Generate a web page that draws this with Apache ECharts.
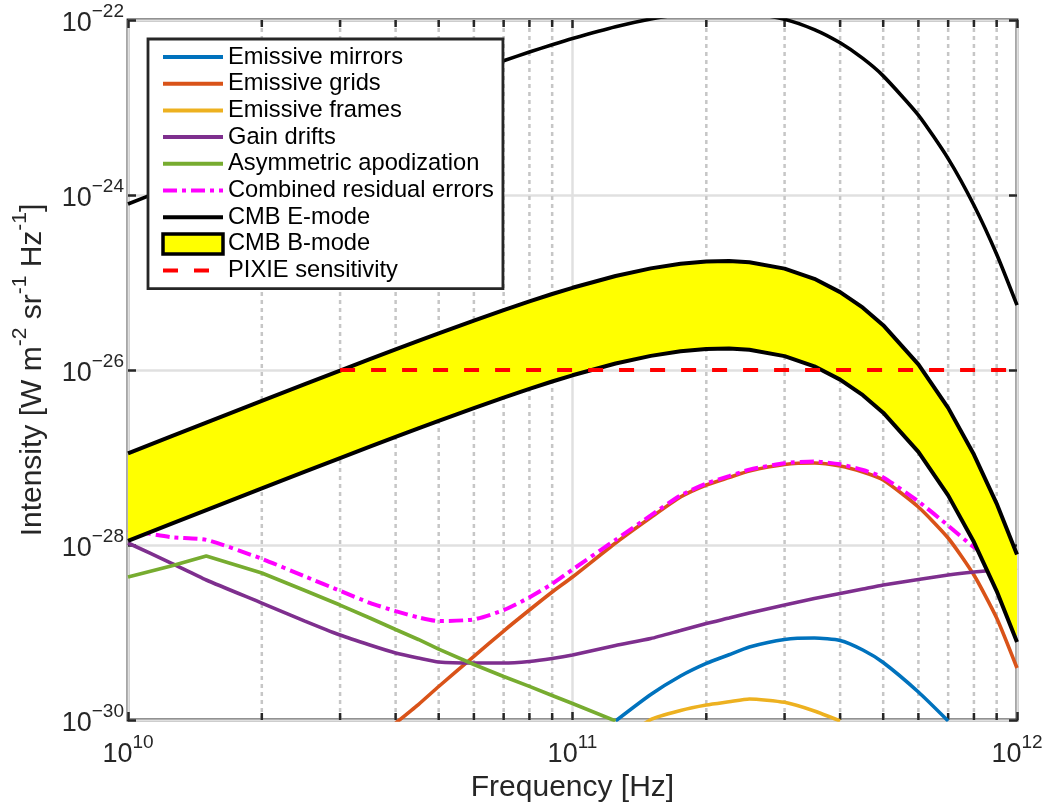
<!DOCTYPE html>
<html>
<head>
<meta charset="utf-8">
<script src="https://cdn.jsdelivr.net/npm/echarts@6/dist/echarts.min.js"></script>
<style>
  html, body { margin: 0; padding: 0; background: #fff; }
  #chart { width: 1052px; height: 808px; }
</style>
</head>
<body>
<div id="chart"></div>
<script>
// Frequency samples [Hz]
const freqHz = [1.0e10, 1.25e10, 1.5e10, 2.0e10, 2.5e10, 3.0e10, 3.5e10, 4.0e10, 4.5e10, 5.0e10,
                6.0e10, 7.0e10, 8.0e10, 9.0e10, 1.0e11, 1.25e11, 1.5e11, 1.75e11, 2.0e11, 2.25e11,
                2.5e11, 3.0e11, 3.5e11, 4.0e11, 4.5e11, 5.0e11, 6.0e11, 7.0e11, 8.0e11, 9.0e11, 1.0e12];

// Intensities [W m^-2 sr^-1 Hz^-1]; null = not drawn
const emissiveMirrors = [null, null, null, null, null, null, null, null, null, null,
  null, null, null, null, null, 9.75e-31, 1.955e-30, 3.18e-30, 4.43e-30, 5.57e-30,
  6.83e-30, 8.32e-30, 8.65e-30, 8.11e-30, 6.31e-30, 4.54e-30, 2.09e-30, 9.75e-31, null, null, null];

const emissiveGrids = [null, null, null, null, null, null, null, 9.24e-31, 1.503e-30, 2.415e-30,
  5.32e-30, 1.040e-29, 1.807e-29, 2.904e-29, 4.31e-29, 1.054e-28, 2.061e-28, 3.54e-28, 4.85e-28, 5.90e-28,
  7.01e-28, 8.32e-28, 8.65e-28, 8.00e-28, 6.82e-28, 5.53e-28, 2.72e-28, 1.202e-28, 4.54e-29, 1.465e-29, 3.93e-30];

const emissiveFrames = [null, null, null, null, null, null, null, null, null, null,
  null, null, null, null, null, 5.18e-31, 1.013e-30, 1.285e-30, 1.483e-30, 1.614e-30,
  1.738e-30, 1.592e-30, 1.268e-30, 9.75e-31, null, null, null, null, null, null, null];

const gainDrifts = [1.054e-28, 6.22e-29, 3.98e-29, 2.17e-29, 1.35e-29, 9.35e-30, 7.19e-30, 5.83e-30, 5.11e-30, 4.60e-30,
  4.48e-30, 4.48e-30, 4.67e-30, 5.04e-30, 5.53e-30, 7.10e-30, 8.53e-30, 1.054e-29, 1.268e-29, 1.465e-29,
  1.671e-29, 2.061e-29, 2.45e-29, 2.79e-29, 3.14e-29, 3.49e-29, 4.04e-29, 4.54e-29, 4.91e-29, 5.18e-29, 5.46e-29];

const asymApodization = [4.31e-29, 5.75e-29, 7.48e-29, 4.79e-29, 3.02e-29, 2.06e-29, 1.465e-29, 1.082e-29, 8.32e-30, 6.47e-30,
  4.31e-30, 3.14e-30, 2.42e-30, 1.905e-30, 1.545e-30, 9.75e-31, null, null, null, null,
  null, null, null, null, null, null, null, null, null, null, null];

const combinedResidual = [1.485e-28, 1.23e-28, 1.146e-28, 6.96e-29, 4.37e-29, 2.995e-29, 2.18e-29, 1.757e-29, 1.49e-29, 1.35e-29,
  1.411e-29, 1.80e-29, 2.52e-29, 3.60e-29, 5.24e-29, 1.145e-28, 2.176e-28, 3.69e-28, 5.04e-28, 6.12e-28,
  7.26e-28, 8.62e-28, 8.99e-28, 8.37e-28, 7.19e-28, 5.92e-28, 3.145e-28, 1.666e-28, 9.45e-29, 6.65e-29, 5.85e-29];

const cmbEmode = [7.889e-25, 1.230e-24, 1.768e-24, 3.130e-24, 4.862e-24, 6.953e-24, 9.385e-24, 1.214e-23, 1.520e-23, 1.854e-23,
  2.596e-23, 3.419e-23, 4.300e-23, 5.218e-23, 6.145e-23, 8.375e-23, 1.025e-22, 1.159e-22, 1.230e-22, 1.242e-22,
  1.202e-22, 1.018e-22, 7.776e-23, 5.485e-23, 3.637e-23, 2.298e-23, 8.185e-24, 2.605e-24, 7.638e-25, 2.102e-25, 5.507e-26];

const cmbBmodeUpper = [1.117e-27, 1.742e-27, 2.503e-27, 4.433e-27, 6.883e-27, 9.842e-27, 1.328e-26, 1.719e-26, 2.152e-26, 2.625e-26,
  3.675e-26, 4.840e-26, 6.086e-26, 7.386e-26, 8.700e-26, 1.186e-25, 1.451e-25, 1.641e-25, 1.742e-25, 1.758e-25,
  1.701e-25, 1.441e-25, 1.101e-25, 7.765e-26, 5.149e-26, 3.253e-26, 1.159e-26, 3.688e-27, 1.081e-27, 2.977e-28, 7.797e-29];

const cmbBmodeLower = [1.117e-28, 1.742e-28, 2.503e-28, 4.433e-28, 6.883e-28, 9.842e-28, 1.328e-27, 1.719e-27, 2.152e-27, 2.625e-27,
  3.675e-27, 4.840e-27, 6.086e-27, 7.386e-27, 8.700e-27, 1.186e-26, 1.451e-26, 1.641e-26, 1.742e-26, 1.758e-26,
  1.701e-26, 1.441e-26, 1.101e-26, 7.765e-27, 5.149e-27, 3.253e-27, 1.159e-27, 3.688e-28, 1.081e-28, 2.977e-29, 7.797e-30];

const pixieFreqHz = [3.0e10, 1.0e12];
const pixieSensitivity = [1.0e-26, 1.0e-26];

// Axis ranges and minor tick positions
const xRange = [1e10, 1e12];
const yRange = [1e-30, 1e-22];
const minorFreqHz = [2e10, 3e10, 4e10, 5e10, 6e10, 7e10, 8e10, 9e10,
                     2e11, 3e11, 4e11, 5e11, 6e11, 7e11, 8e11, 9e11];

// The y axis works in units of 1e-30 W m^-2 sr^-1 Hz^-1 so the log scale
// keeps its extent away from floating-point rounding to zero.
const Y_UNIT = 1e-30;
const Y_UNIT_EXP = -30;
const toUnit = v => (v == null ? null : v / Y_UNIT);

const FONT = '"Liberation Sans", Arial, Helvetica, sans-serif';
const AXIS_COLOR = '#262626';

function pairs(xs, ys) {
  return xs.map((x, i) => [x, toUnit(ys[i])]);
}

function exponentText(e) {
  return e < 0 ? '\u2212' + (-e) : String(e);
}
function xPowerLabel(value) {
  return '{b|10}{s|' + exponentText(Math.round(Math.log10(value))) + '}';
}
function yPowerLabel(value) {
  return '{b|10}{s|' + exponentText(Math.round(Math.log10(value)) + Y_UNIT_EXP) + '}';
}

const tickRich = {
  b: { fontSize: 27, lineHeight: 35, verticalAlign: 'bottom', color: AXIS_COLOR, fontFamily: FONT },
  s: { fontSize: 19, lineHeight: 19, verticalAlign: 'top', color: AXIS_COLOR, fontFamily: FONT }
};

const tickStyle = { inside: true, length: 8, lineStyle: { color: AXIS_COLOR, width: 2.5 } };

function lineSeries(name, ys, color, extra) {
  return Object.assign({
    name: name,
    type: 'line',
    data: pairs(freqHz, ys),
    showSymbol: false,
    symbol: 'none',
    smooth: 0.2,
    connectNulls: false,
    z: 2,
    silent: true,
    color: color,
    itemStyle: { color: color },
    lineStyle: { color: color, width: 3.6 }
  }, extra || {});
}

const chart = echarts.init(document.getElementById('chart'), null, { renderer: 'canvas' });

const option = {
  animation: false,
  backgroundColor: '#ffffff',
  textStyle: { fontFamily: FONT },
  grid: {
    left: 128, right: 35, top: 20, bottom: 88,
    outerBoundsMode: 'none',
    show: true, borderColor: AXIS_COLOR, borderWidth: 2.8, backgroundColor: 'rgba(0,0,0,0)'
  },
  legend: {
    orient: 'vertical',
    left: 148, top: 39,
    padding: [6, 9, 6, 13],
    backgroundColor: '#ffffff',
    borderColor: AXIS_COLOR,
    borderWidth: 2.8,
    borderRadius: 0,
    itemWidth: 60,
    itemHeight: 20,
    itemGap: 2.7,
    selectedMode: false,
    // line entries show only their stroke
    itemStyle: { opacity: 0 },
    lineStyle: { width: 4 },
    textStyle: { fontSize: 23.7, lineHeight: 24, color: '#000', fontFamily: FONT },
    data: [
      'Emissive mirrors', 'Emissive grids', 'Emissive frames', 'Gain drifts',
      'Asymmetric apodization', 'Combined residual errors', 'CMB E-mode',
      { name: 'CMB B-mode', icon: 'rect',
        itemStyle: { opacity: 1, color: '#ffff00', borderColor: '#000', borderWidth: 3.5 } },
      'PIXIE sensitivity'
    ]
  },
  xAxis: [
    {
      type: 'log', logBase: 10, min: xRange[0], max: xRange[1], position: 'bottom',
      axisLine: { show: false },
      axisTick: tickStyle,
      axisLabel: { margin: 13, formatter: xPowerLabel, rich: tickRich },
      splitLine: { show: true, lineStyle: { color: '#e0e0e0', width: 2.5 } },
      name: 'Frequency [Hz]', nameLocation: 'middle', nameGap: 50,
      nameTextStyle: { fontSize: 30, color: AXIS_COLOR, fontFamily: FONT }
    },
    {
      type: 'log', logBase: 10, min: xRange[0], max: xRange[1], position: 'top',
      axisLine: { show: false }, axisTick: tickStyle,
      axisLabel: { show: false }, splitLine: { show: false }
    }
  ],
  yAxis: [
    {
      type: 'log', logBase: 10, min: toUnit(yRange[0]), max: toUnit(yRange[1]), interval: 2, position: 'left',
      axisLine: { show: false },
      axisTick: tickStyle,
      axisLabel: { margin: 4, formatter: yPowerLabel, rich: tickRich },
      splitLine: { show: true, lineStyle: { color: '#e0e0e0', width: 2.5 } },
      name: '{b|Intensity [W m}{s|-2}{b| sr}{s|-1}{b| Hz}{s|-1}{b|]}',
      nameLocation: 'middle', nameRotate: 90, nameGap: 80,
      nameTextStyle: {
        color: AXIS_COLOR, fontFamily: FONT,
        rich: {
          b: { fontSize: 30, lineHeight: 38, verticalAlign: 'bottom', color: AXIS_COLOR, fontFamily: FONT },
          s: { fontSize: 21, lineHeight: 21, verticalAlign: 'top', color: AXIS_COLOR, fontFamily: FONT }
        }
      }
    },
    {
      type: 'log', logBase: 10, min: toUnit(yRange[0]), max: toUnit(yRange[1]), interval: 2, position: 'right',
      axisLine: { show: false }, axisTick: tickStyle,
      axisLabel: { show: false }, splitLine: { show: false }
    }
  ],
  series: [
    // minor frequency grid (dotted) with inward ticks on top and bottom edges
    {
      name: 'minor grid',
      type: 'custom',
      silent: true,
      z: 1,
      data: minorFreqHz.map(f => [f, toUnit(yRange[0])]),
      renderItem: function (params, api) {
        const f = api.value(0);
        const bot = api.coord([f, toUnit(yRange[0])]);
        const top = api.coord([f, toUnit(yRange[1])]);
        return {
          type: 'group',
          children: [
            { type: 'line', shape: { x1: bot[0], y1: bot[1], x2: top[0], y2: top[1] },
              style: { stroke: '#c6c6c6', lineWidth: 2.5, lineDash: [4, 4] } },
            { type: 'line', shape: { x1: bot[0], y1: bot[1], x2: bot[0], y2: bot[1] - 7 },
              style: { stroke: AXIS_COLOR, lineWidth: 2.5 } },
            { type: 'line', shape: { x1: top[0], y1: top[1], x2: top[0], y2: top[1] + 7 },
              style: { stroke: AXIS_COLOR, lineWidth: 2.5 } }
          ]
        };
      }
    },
    lineSeries('Emissive mirrors', emissiveMirrors, '#0072bd'),
    lineSeries('Emissive grids', emissiveGrids, '#d95319'),
    lineSeries('Emissive frames', emissiveFrames, '#edb120'),
    lineSeries('Gain drifts', gainDrifts, '#7e2f8e'),
    lineSeries('Asymmetric apodization', asymApodization, '#77ac30', { smooth: false }),
    lineSeries('Combined residual errors', combinedResidual, '#ff00ff', {
      lineStyle: { color: '#ff00ff', width: 4, type: [14, 5, 4, 5] }
    }),
    lineSeries('CMB E-mode', cmbEmode, '#000000', { lineStyle: { color: '#000', width: 3.6 } }),
    // B-mode band: filled region between lower and upper envelopes
    {
      name: 'CMB B-mode',
      type: 'custom',
      silent: true,
      z: 3,
      itemStyle: { color: '#ffff00' },
      data: pairs(freqHz, cmbBmodeUpper),
      renderItem: function (params, api) {
        if (params.dataIndex !== 0) return null;
        const pts = [];
        for (let i = 0; i < freqHz.length; i++) pts.push(api.coord([freqHz[i], toUnit(cmbBmodeUpper[i])]));
        for (let i = freqHz.length - 1; i >= 0; i--) pts.push(api.coord([freqHz[i], toUnit(cmbBmodeLower[i])]));
        return { type: 'polygon', shape: { points: pts }, style: { fill: '#ffff00', stroke: null } };
      }
    },
    lineSeries('B-mode upper', cmbBmodeUpper, '#000000', { smooth: false, z: 4, lineStyle: { color: '#000', width: 4 } }),
    lineSeries('B-mode lower', cmbBmodeLower, '#000000', { smooth: false, z: 4, lineStyle: { color: '#000', width: 4 } }),
    {
      name: 'PIXIE sensitivity',
      type: 'line',
      data: pairs(pixieFreqHz, pixieSensitivity),
      showSymbol: false, symbol: 'none', silent: true, z: 5,
      color: '#ff0000',
      itemStyle: { color: '#ff0000' },
      lineStyle: { color: '#ff0000', width: 4, type: [15, 16] }
    }
  ]
};

chart.setOption(option);
</script>
</body>
</html>
